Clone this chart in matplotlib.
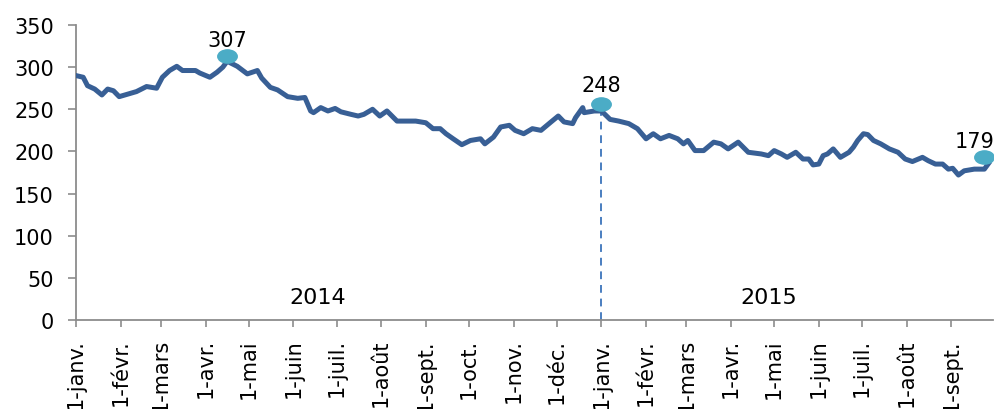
import numpy as np
import pandas as pd
import matplotlib
matplotlib.use('Agg')
import matplotlib.pyplot as plt
from matplotlib.path import Path
from matplotlib.transforms import Affine2D

plt.rcParams['font.family'] = ['DejaVu Sans']

# daily index readings, sampled a few days apart
dates = [
    '2014-01-01', '2014-01-06', '2014-01-09', '2014-01-14', '2014-01-19', '2014-01-23',
    '2014-01-27', '2014-01-31', '2014-02-06', '2014-02-12', '2014-02-19', '2014-02-26',
    '2014-03-02', '2014-03-07', '2014-03-12', '2014-03-16', '2014-03-25', '2014-03-28',
    '2014-04-04', '2014-04-09', '2014-04-13', '2014-04-16', '2014-04-23', '2014-04-30',
    '2014-05-07', '2014-05-10', '2014-05-16', '2014-05-21', '2014-05-28', '2014-06-04',
    '2014-06-09', '2014-06-13', '2014-06-15', '2014-06-20', '2014-06-25', '2014-06-30',
    '2014-07-04', '2014-07-11', '2014-07-16', '2014-07-20', '2014-07-26', '2014-07-31',
    '2014-08-05', '2014-08-12', '2014-08-19', '2014-08-25', '2014-09-01', '2014-09-06',
    '2014-09-11', '2014-09-15', '2014-09-20', '2014-09-26', '2014-10-02', '2014-10-09',
    '2014-10-12', '2014-10-18', '2014-10-23', '2014-10-29', '2014-11-02', '2014-11-08',
    '2014-11-14', '2014-11-20', '2014-11-27', '2014-12-02', '2014-12-06', '2014-12-12',
    '2014-12-14', '2014-12-19', '2014-12-20', '2014-12-27', '2015-01-01', '2015-01-07',
    '2015-01-13', '2015-01-20', '2015-01-26', '2015-02-01', '2015-02-06', '2015-02-11',
    '2015-02-17', '2015-02-23', '2015-02-27', '2015-03-02', '2015-03-07', '2015-03-13',
    '2015-03-20', '2015-03-25', '2015-03-30', '2015-04-06', '2015-04-13', '2015-04-22',
    '2015-04-27', '2015-05-01', '2015-05-06', '2015-05-10', '2015-05-16', '2015-05-21',
    '2015-05-25', '2015-05-28', '2015-06-01', '2015-06-04', '2015-06-07', '2015-06-11',
    '2015-06-16', '2015-06-22', '2015-06-25', '2015-06-28', '2015-07-02', '2015-07-05',
    '2015-07-09', '2015-07-14', '2015-07-20', '2015-07-26', '2015-07-31', '2015-08-05',
    '2015-08-12', '2015-08-16', '2015-08-21', '2015-08-26', '2015-08-30', '2015-09-02',
    '2015-09-06', '2015-09-10', '2015-09-17', '2015-09-24', '2015-09-27',
]
values = [
    290, 288, 278, 274, 267, 274,
    272, 265, 268, 271, 277, 275,
    288, 296, 301, 296, 296, 293,
    288, 294, 300, 307, 301, 292,
    296, 287, 276, 273, 265, 263,
    264, 248, 246, 252, 248, 251,
    247, 244, 242, 244, 250, 242,
    248, 236, 236, 236, 234, 227,
    227, 221, 215, 208, 213, 215,
    209, 217, 229, 231, 225, 221,
    227, 225, 235, 242, 235, 233,
    240, 252, 246, 248, 248, 238,
    236, 233, 227, 215, 221, 215,
    219, 215, 209, 213, 201, 201,
    211, 209, 203, 211, 199, 197,
    195, 201, 197, 193, 199, 191,
    191, 184, 185, 195, 197, 203,
    193, 199, 205, 213, 221, 220,
    213, 209, 203, 199, 191, 188,
    193, 189, 185, 185, 179, 180,
    172, 177, 179, 179, 186,
]

# highlighted points
hl_dates = ['2014-04-16', '2015-01-01', '2015-09-24']
hl_values = [307, 248, 179]
hl_lift = [5, 7, 12]          # marker raised above the line, in pixels
hl_text_off = [(0, 21), (0, 26), (-10, 28)]

month_names = ['janv.', 'févr.', 'mars', 'avr.', 'mai', 'juin',
               'juil.', 'août', 'sept.', 'oct.', 'nov.', 'déc.']
year_labels = ['2014', '2015']

x = pd.to_datetime(dates)
hx = pd.to_datetime(hl_dates)

fig = plt.figure(figsize=(9.95, 4.1), dpi=100)
ax = fig.add_axes([76 / 995, 89 / 410, 917 / 995, 295 / 410])

line_col = '#385f95'
ax.plot(x, values, color=line_col, lw=3.6, solid_joinstyle='round', zorder=3)

# dashed marker for the turn of the year
ax.vlines(hx[1], 0, hl_values[1], colors='#4a7ec0', linestyles=(0, (4, 3)), lw=1.4, zorder=2)

oval = Path.unit_circle().transformed(Affine2D().scale(1.0, 0.68))
for d, v, lift, off in zip(hx, hl_values, hl_lift, hl_text_off):
    tr = ax.transData + Affine2D().translate(0, lift)
    ax.plot([d], [v], marker=oval, ms=14, color='#4bacc6', mec='#4bacc6', transform=tr, zorder=4)
    ax.annotate(str(v), (d, v), xytext=off, textcoords='offset pixels',
                ha='center', va='center', fontsize=15, color='black', zorder=5)

ax.text(0.264, 0.077, year_labels[0], transform=ax.transAxes, ha='center', va='center', fontsize=16)
ax.text(0.755, 0.077, year_labels[1], transform=ax.transAxes, ha='center', va='center', fontsize=16)

ax.set_ylim(0, 350)
ax.set_yticks(np.arange(0, 351, 50))
ax.set_xlim(pd.Timestamp('2014-01-01'), pd.Timestamp('2015-09-30'))

ticks = pd.date_range('2014-01-01', '2015-09-01', freq='MS')
ax.set_xticks(ticks)
ax.set_xticklabels(['1-' + month_names[t.month - 1] for t in ticks], rotation=90, va='top', ha='center')

for side in ['top', 'right']:
    ax.spines[side].set_visible(False)
for side in ['left', 'bottom']:
    ax.spines[side].set_color('#8c8c8c')
    ax.spines[side].set_linewidth(1.3)

ax.tick_params(axis='y', direction='out', length=6, width=1.2, color='#8c8c8c', pad=10, labelsize=15)
ax.tick_params(axis='x', direction='out', length=5, width=1.2, color='#8c8c8c', pad=8, labelsize=15)

fig.savefig('out.png', dpi=100)
